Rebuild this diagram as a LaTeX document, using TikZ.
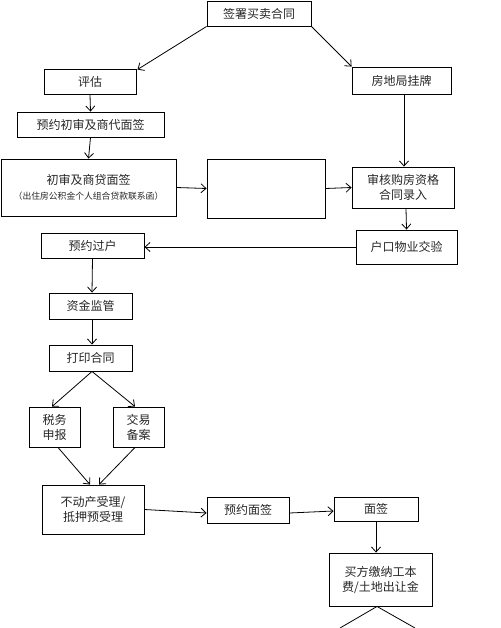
\documentclass[tikz,border=0pt]{standalone}
\usepackage{fontspec}
\newfontfamily\cjk{Noto Sans CJK SC}
\usetikzlibrary{arrows.meta,calc}
\tikzset{
  box/.style={draw=black, line width=0.9pt, inner sep=0pt, align=center,
    font=\cjk\fontsize{12}{15}\selectfont, text=black!85},
  arr/.style={draw=black, line width=0.8pt, -{Straight Barb[length=5pt,width=9pt]}},
  ln/.style={draw=black, line width=0.8pt}
}
\begin{document}
\begin{tikzpicture}[x=1pt,y=-1pt]
\path[use as bounding box] (0,0) rectangle (500,628);
\node[box, minimum width=104pt, minimum height=25pt] (sign) at (259,13.5) {签署买卖合同};
\node[box, minimum width=92pt, minimum height=25pt] (eval) at (90,81.5) {评估};
\node[box, minimum width=99pt, minimum height=27pt] (fdj) at (401.5,80.5) {房地局挂牌};
\node[box, minimum width=147pt, minimum height=25pt] (yyzs) at (90.5,124.5) {预约初审及商代面签};
\node[box, minimum width=175pt, minimum height=57pt] (cs) at (88.5,187.5) {初审及商贷面签\\[0pt]{\fontsize{8.8}{10}\selectfont （出住房公积金个人组合贷款联系函）}};
\node[box, minimum width=118pt, minimum height=59pt] (empty) at (266,188.5) {};
\node[box, minimum width=102pt, minimum height=41pt] (sh) at (403,187.5) {审核购房资格\\合同录入};
\node[box, minimum width=101pt, minimum height=34pt] (hk) at (406.5,247) {户口物业交验};
\node[box, minimum width=103pt, minimum height=25pt] (yygh) at (92.5,245.5) {预约过户};
\node[box, minimum width=83pt, minimum height=26pt] (zjjg) at (90.5,306) {资金监管};
\node[box, minimum width=83pt, minimum height=26pt] (dy) at (90.5,358) {打印合同};
\node[box, minimum width=51pt, minimum height=40pt] (sw) at (54.5,427) {税务\\申报};
\node[box, minimum width=51pt, minimum height=40pt] (jy) at (138.5,427) {交易\\备案};
\node[box, minimum width=102pt, minimum height=49pt] (bdc) at (93,509.5) {不动产受理/\\抵押预受理};
\node[box, minimum width=82pt, minimum height=26pt] (yymq) at (248,510) {预约面签};
\node[box, minimum width=84pt, minimum height=24pt] (mq) at (376,509) {面签};
\node[box, minimum width=103pt, minimum height=53pt] (mf) at (380.5,579.5) {买方缴纳工本\\费/土地出让金};
\coordinate (endL) at (340,628);
\coordinate (endR) at (415,628);

\draw[arr] (sign.south west) -- ([shift={(1,1)}]eval.north east);
\draw[arr] (sign.south east) -- (fdj.north west);
\draw[arr] (eval.south) -- (yyzs.north);
\draw[arr] (yyzs.south) -- (cs.north);
\draw[arr] ([xshift=2.5pt]fdj.south) -- ([xshift=1pt]sh.north);
\draw[arr] (cs.east) -- (empty.west);
\draw[arr] (empty.east) -- (sh.west);
\draw[arr] ([xshift=3pt]sh.south) -- (hk.north);
\draw[arr] (hk.west) -- (yygh.east |- hk.west);
\draw[arr] (yygh.south) -- ([xshift=1.5pt]zjjg.north);
\draw[arr] ([xshift=1.5pt]zjjg.south) -- ([xshift=1.5pt]dy.north);
\draw[arr] ([xshift=1.5pt]dy.south) -- ([xshift=-2.5pt]sw.north);
\draw[arr] ([xshift=1.5pt]dy.south) -- ([xshift=-3.5pt]jy.north);
\draw[arr] ([xshift=3.5pt]sw.south) -- ([xshift=-3pt]bdc.north);
\draw[arr] ([xshift=-3.5pt]jy.south) -- ([xshift=6pt]bdc.north);
\draw[arr] (bdc.east) -- ([yshift=-3pt]yymq.west);
\draw[arr] ([yshift=-3pt]yymq.east) -- ([yshift=-2pt]mq.west);
\draw[arr] (mq.south) -- ([xshift=-4.5pt]mf.north);
\draw[ln] ([xshift=-3.5pt]mf.south) -- (endL);
\draw[ln] ([xshift=-3.5pt]mf.south) -- (endR);
\end{tikzpicture}
\end{document}
